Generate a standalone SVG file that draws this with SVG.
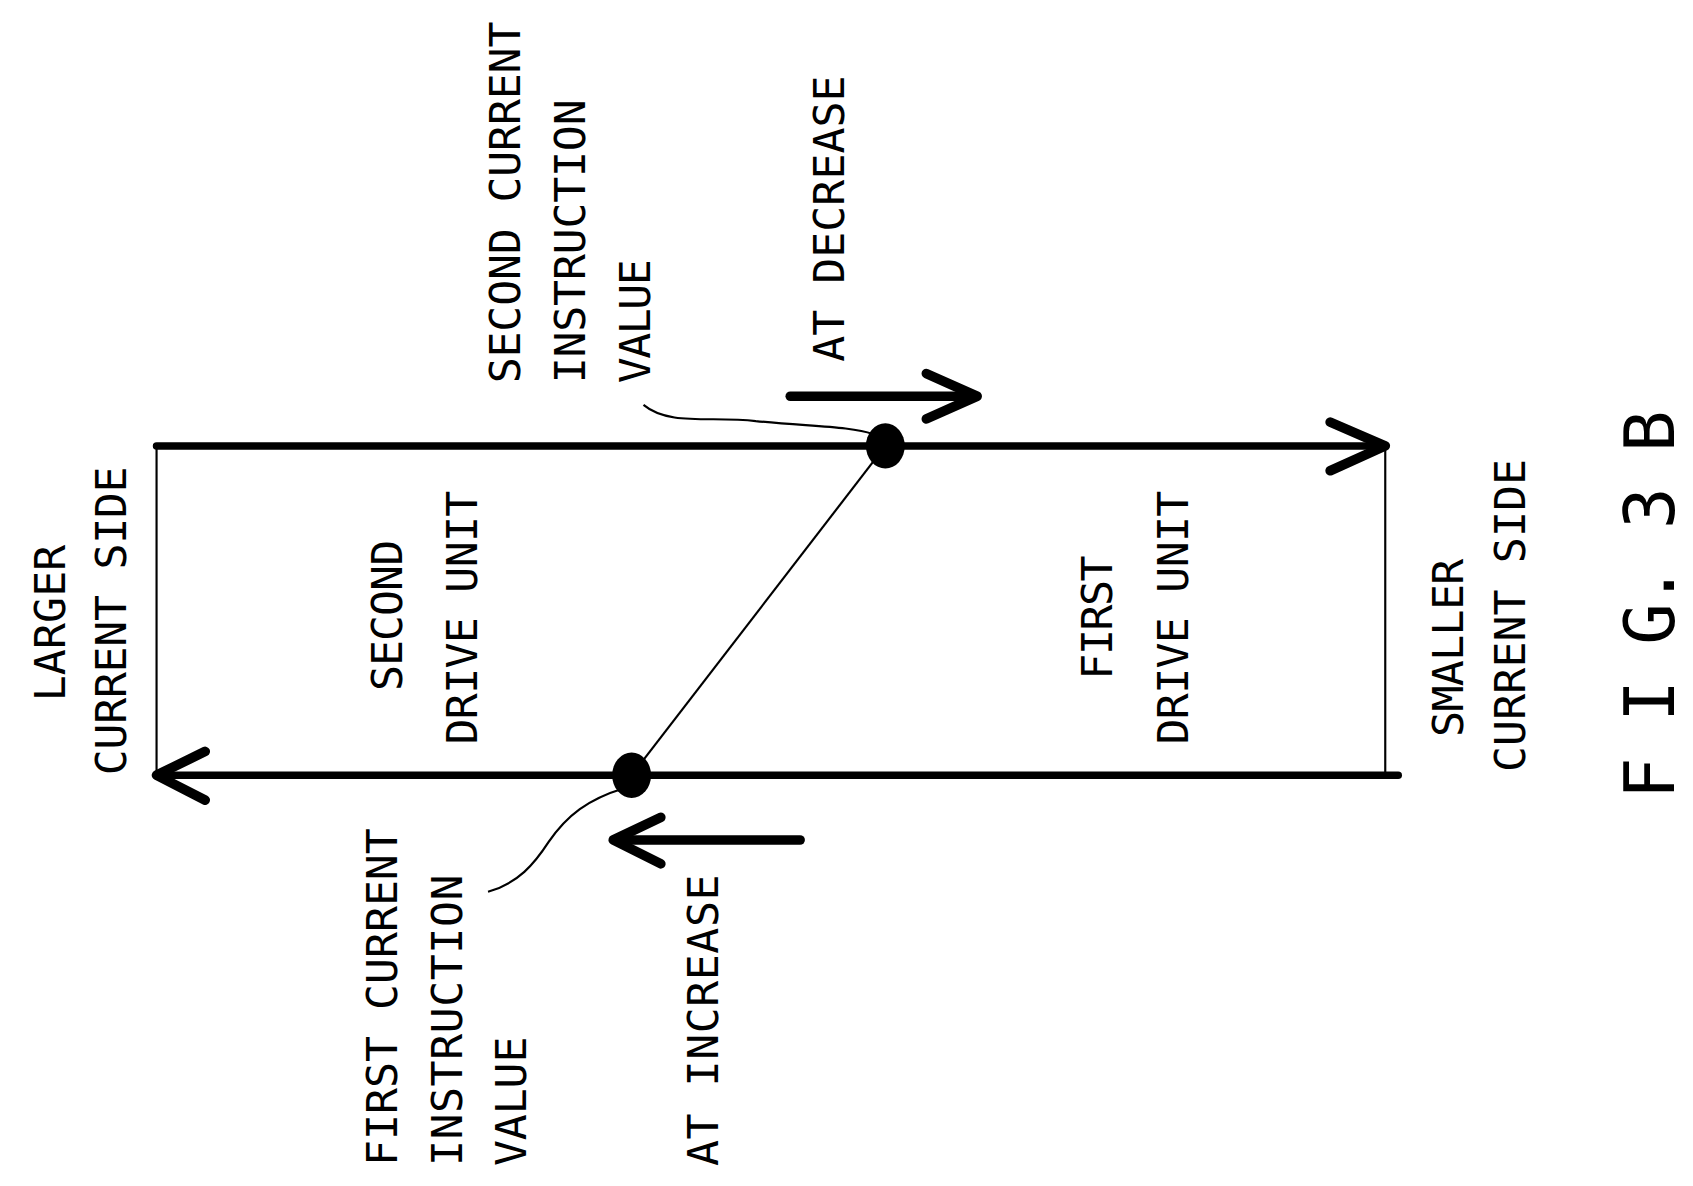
<svg xmlns="http://www.w3.org/2000/svg" width="1693" height="1186" viewBox="0 0 1693 1186">
<style>
.t{font-family:"DejaVu Sans Mono","Liberation Mono",monospace;font-size:40px;fill:#000}
.thick{stroke:#000;stroke-width:7;fill:none;stroke-linecap:round;stroke-linejoin:round}
.thin{stroke:#000;stroke-width:2;fill:none}
.arr{stroke:#000;stroke-width:9;fill:none;stroke-linecap:round;stroke-linejoin:round}
</style>
<rect width="1693" height="1186" fill="#fff"/>
<g transform="scale(1.0797)">
<g id="connectors">
<line class="thick" x1="145" y1="413" x2="1283" y2="413"/>
<polyline class="arr" points="1232,391 1283,413 1232,436"/>
<line class="thick" x1="145" y1="718" x2="1295" y2="718"/>
<polyline class="arr" points="190,696 145,718 190,741"/>
<line class="thin" x1="145" y1="413" x2="145" y2="718"/>
<line class="thin" x1="1283" y1="413" x2="1283" y2="718"/>
<line class="thin" x1="820" y1="413" x2="585" y2="718"/>
<line class="arr" x1="732" y1="367" x2="902" y2="367"/>
<polyline class="arr" points="858,346 905,367 858,388"/>
<line class="arr" x1="741" y1="778" x2="572" y2="778"/>
<polyline class="arr" points="612,757 568,778 612,800"/>
<path class="thin" d="M596,375 C620,395 660,385 700,390 C750,395 790,395 808,402"/>
<path class="thin" d="M452,826 C480,818 495,800 508,780 C525,755 545,740 578,730"/>
</g>
<g id="dot2"><ellipse cx="820" cy="413" rx="18" ry="21"/></g>
<g id="dot1"><ellipse cx="585" cy="718" rx="18" ry="21"/></g>
<g id="larger"><text class="t" transform="translate(60,577) rotate(-90)" text-anchor="middle" textLength="145">LARGER</text><text class="t" transform="translate(117,575) rotate(-90)" text-anchor="middle" textLength="286">CURRENT SIDE</text></g>
<g id="second"><text class="t" transform="translate(372,570) rotate(-90)" text-anchor="middle" textLength="140">SECOND</text><text class="t" transform="translate(442,572) rotate(-90)" text-anchor="middle" textLength="235">DRIVE UNIT</text></g>
<g id="first"><text class="t" transform="translate(1030,572) rotate(-90)" text-anchor="middle" textLength="115">FIRST</text><text class="t" transform="translate(1100,572) rotate(-90)" text-anchor="middle" textLength="235">DRIVE UNIT</text></g>
<g id="smaller"><text class="t" transform="translate(1355,600) rotate(-90)" text-anchor="middle" textLength="165">SMALLER</text><text class="t" transform="translate(1412,570) rotate(-90)" text-anchor="middle" textLength="290">CURRENT SIDE</text></g>
<g id="second-val"><text class="t" transform="translate(482,355) rotate(-90)" textLength="335">SECOND CURRENT</text><text class="t" transform="translate(542,355) rotate(-90)" textLength="263">INSTRUCTION</text><text class="t" transform="translate(602,355) rotate(-90)" textLength="115">VALUE</text></g>
<g id="decrease"><text class="t" transform="translate(782,335) rotate(-90)" textLength="265">AT DECREASE</text></g>
<g id="first-val"><text class="t" transform="translate(368,1080) rotate(-90)" textLength="313">FIRST CURRENT</text><text class="t" transform="translate(428,1080) rotate(-90)" textLength="270">INSTRUCTION</text><text class="t" transform="translate(487,1080) rotate(-90)" textLength="120">VALUE</text></g>
<g id="increase"><text class="t" transform="translate(665,1080) rotate(-90)" textLength="270">AT INCREASE</text></g>
<g id="fig"><text class="t" style="font-size:64px" transform="translate(1550,740) rotate(-90)" textLength="360" lengthAdjust="spacing">F I G. 3 B</text></g>
</g>
</svg>
